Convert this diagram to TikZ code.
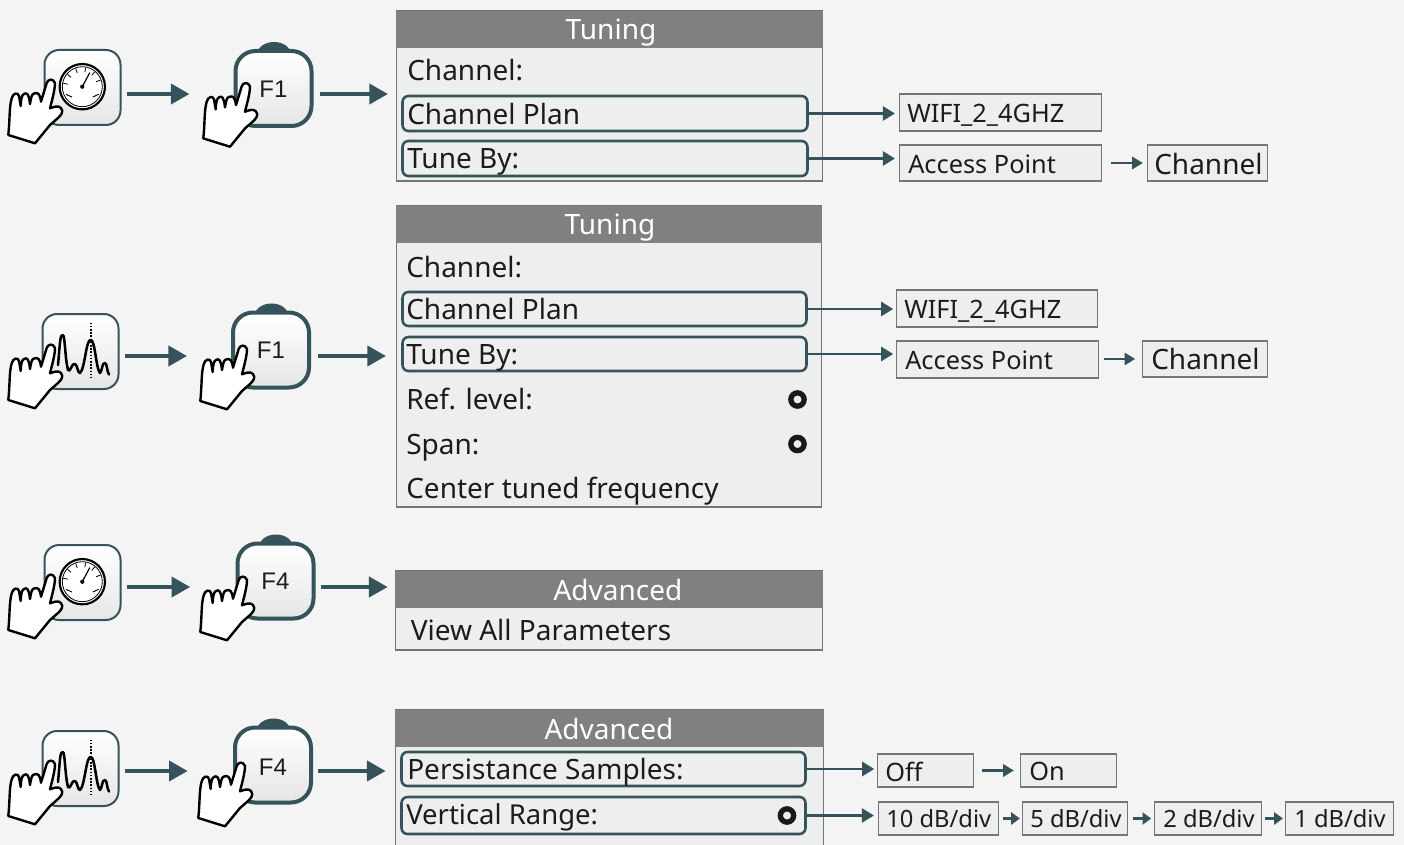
\documentclass[tikz,border=0pt]{standalone}
\usepackage{fontspec}
\setmainfont{Noto Sans}
\newfontfamily\keyfont{Liberation Sans}
\usetikzlibrary{arrows.meta,calc}
\definecolor{bgc}{HTML}{F4F4F4}
\definecolor{teal}{HTML}{36525A}
\definecolor{panelc}{HTML}{EDEFEE}
\definecolor{headc}{HTML}{808080}
\definecolor{edgec}{HTML}{757575}
\definecolor{inkc}{HTML}{1C1C1C}
\newcommand{\pxbox}[6]{% name,x1,y1,x2,y2,style
  \pgfmathsetmacro{\bw}{(#4-#2)*0.75}\pgfmathsetmacro{\bh}{(#5-#3)*0.75}
  \node[#6,minimum width=\bw pt,minimum height=\bh pt] (#1) at ({(#2+#4)/2+0.5},{(#3+#5)/2}) {};}
\newcommand{\handicon}[2]{\begin{scope}[shift={(#1,#2)}]
  \draw[fill=white,draw=black,line width=1.8pt,line join=round,line cap=round]
   (8.3,135) .. controls (10,120) and (9,108) .. (11.7,98.3) .. controls (13,93) and (18,92) .. (19,96) -- (20.7,106)
   .. controls (21,98) and (22,95) .. (24,94) .. controls (27,92) and (29,94) .. (30,104)
   .. controls (31,97) and (32,94) .. (34,93.5) .. controls (38,92) and (40,94) .. (41,101.7)
   -- (46.7,83) .. controls (48,79) and (53,78) .. (55,83) .. controls (55,90) and (52,100) .. (50,108.3)
   .. controls (54,107) and (58,105) .. (61,108) .. controls (64,112) and (61,115) .. (58,118)
   -- (50,125) -- (35,143.3) -- cycle;
 \end{scope}}
\newcommand{\gaugeicon}[3]{\begin{scope}[shift={(#1,#2)}]
  \pxbox{#3}{44}{50}{120}{125}{btn}
  \fill[white] (82.3,86.7) circle (17pt);
  \draw[black,line width=1.6pt] (82.3,86.7) circle (17pt);
  \draw[black,line width=.6pt] (82.3,86.7) circle (15pt);
  \foreach \a in {20,50,80,110,140,170}
    \draw[black,line width=.6pt] ($(82.3,86.7)+(\a:11pt)$) -- ($(82.3,86.7)+(\a:14.5pt)$);
  \draw[black,line width=.7pt] ($(82.3,86.7)+(205:13.5pt)$) -- ($(82.3,86.7)+(225:11pt)$);
  \draw[black,line width=.7pt] ($(82.3,86.7)+(-25:13.5pt)$) -- ($(82.3,86.7)+(-45:11pt)$);
  \draw[black,line width=.9pt] (82.3,86.7) -- ($(82.3,86.7)+(62:12pt)$);
  \fill[black] (82.3,86.7) circle (1.6pt);
 \end{scope}}
\newcommand{\specicon}[3]{\begin{scope}[shift={(#1,#2)}]
  \pxbox{#3}{44}{50}{120}{125}{btn}
  \draw[black,line width=1.2pt,dash pattern=on 1.2pt off 1.2pt] (92.7,58.5) -- (92.7,114);
  \draw[black,line width=1.9pt,line cap=round,line join=round]
   (60,101) .. controls (62,80) and (62,70) .. (64.7,71) .. controls (67,70) and (67,95) .. (70,106)
   .. controls (72,110) and (74,98) .. (77,100) .. controls (79,100) and (80,110) .. (82,109)
   .. controls (87,105) and (88,75) .. (92.7,76) .. controls (97,75) and (98,105) .. (102,109)
   .. controls (104,108) and (104,98) .. (107,99) .. controls (109,99) and (109,108) .. (111,110.5);
 \end{scope}}
\newcommand{\fkey}[5]{% name,x1,y1,label,label y offset
  \fill[teal] (#2+39,#3+3) ellipse [x radius=12.5pt,y radius=9pt];
  \pxbox{#1}{#2}{#3}{#2+76}{#3+75}{fbtn}
  \node[keytext] (#1t) at (#2+38.5,#3+#5) {#4};}
\newcommand{\tx}[4]{\node[txt] (#1) at (#2-1,#3) {#4};}
\newcommand{\ttl}[4]{\node[ttlt] (#1) at (#2+1,#3) {#4};}
\tikzset{
 btn/.style={draw=teal,line width=1.5pt,rounded corners=11pt,top color=white,bottom color=white!90!black,inner sep=0pt},
 fbtn/.style={draw=teal,line width=3pt,rounded corners=15pt,top color=white,bottom color=white!90!black,inner sep=0pt},
 keytext/.style={font=\keyfont\fontsize{18}{20}\selectfont,text=inkc,inner sep=0pt},
 txt/.style={anchor=base west,font=\fontsize{21}{26}\selectfont,text=inkc,inner sep=0pt},
 smalltxt/.style={anchor=base west,font=\fontsize{17.8}{22}\selectfont,text=inkc,inner sep=0pt},
 ttlt/.style={anchor=base,font=\fontsize{21}{26}\selectfont,text=white,inner sep=0pt},
 panel/.style={draw=edgec,line width=.8pt,fill=panelc,inner sep=0pt},
 head/.style={fill=headc,draw=headc,line width=.6pt,inner sep=0pt},
 row/.style={draw=teal,line width=1.9pt,rounded corners=4.5pt,fill=panelc,inner sep=0pt},
 opt/.style={draw=edgec,line width=.9pt,fill=panelc,inner sep=0pt},
 bigarrow/.style={draw=teal,line width=3pt,-{Triangle[length=14pt,width=15pt]}},
 midarrow/.style={draw=teal,line width=1.9pt,-{Triangle[length=9pt,width=10.5pt]}},
 smallarrow/.style={draw=teal,line width=2pt,-{Triangle[length=8pt,width=9pt]}},
 tinyarrow/.style={draw=teal,line width=2pt,-{Triangle[length=6.5pt,width=9pt]}},
 radio/.style={circle,draw=black!90,line width=4pt,fill=panelc,minimum size=10pt,inner sep=0pt},
}
\begin{document}
\begin{tikzpicture}[x=0.75pt,y=-0.75pt]
\clip (0,0) rectangle (1404,845);
\fill[bgc] (0,0) rectangle (1404,845);
% --- row 1
\gaugeicon{0}{0}{b1}
\handicon{0}{0}
\fkey{f1}{235}{51}{F1}{38}
\handicon{195}{3.4}
\pxbox{p1}{396}{11}{822}{181}{panel}
\pxbox{h1}{396}{11}{822}{47}{head}
\ttl{t1}{610}{40}{Tuning}
\tx{c1}{408}{81}{Channel:}
\pxbox{r1a}{402}{96}{807}{131}{row}
\tx{c1a}{408}{125}{Channel Plan}
\pxbox{r1b}{402}{141}{807}{176}{row}
\tx{c1b}{408}{169}{Tune By:}
\pxbox{o1a}{899}{94}{1101}{131}{opt}
\tx{o1at}{908}{123}{\fontsize{19}{24}\selectfont WIFI\_2\_4GHZ}
\pxbox{o1b}{899}{145}{1101}{181}{opt}
\tx{o1bt}{909}{174}{\fontsize{19}{24}\selectfont Access Point}
\pxbox{o1c}{1147}{145}{1267}{181}{opt}
\tx{o1ct}{1155}{175}{Channel}
\draw[bigarrow] ([xshift=4pt]b1.east |- 0,94) -- ([xshift=-33pt]f1.west |- 0,94);
\draw[bigarrow] ([xshift=5pt]f1.east |- 0,94) -- ([xshift=-6pt]p1.west |- 0,94);
\draw[midarrow] (r1a.east) -- ([xshift=-3pt]o1a.west |- r1a.east);
\draw[midarrow] (r1b.east) -- ([xshift=-3pt]o1b.west |- r1b.east);
\draw[smallarrow] ([xshift=7pt]o1b.east) -- ([xshift=-3pt]o1c.west);
% --- row 2
\specicon{-2}{264}{b2}
\handicon{0}{265}
\fkey{f2}{232.5}{312.5}{F1}{38}
\handicon{192}{266}
\pxbox{p2}{396}{206}{821}{507}{panel}
\pxbox{h2}{396}{206}{821}{242}{head}
\ttl{t2}{609}{235}{Tuning}
\tx{c2}{407}{277}{Channel:}
\pxbox{r2a}{402}{292}{806}{326}{row}
\tx{c2a}{407}{320}{Channel Plan}
\pxbox{r2b}{402}{337}{806}{371}{row}
\tx{c2b}{407}{364}{Tune By:}
\tx{c2c}{407}{409}{Ref. level:}
\tx{c2d}{407}{454}{Span:}
\tx{c2e}{407}{498}{Center tuned frequency}
\node[radio] (q1) at (797.5,399.5) {};
\node[radio] (q2) at (797.5,444) {};
\pxbox{o2a}{896}{290}{1097}{327}{opt}
\tx{o2at}{905}{319}{\fontsize{19}{24}\selectfont WIFI\_2\_4GHZ}
\pxbox{o2b}{896}{341}{1098}{378}{opt}
\tx{o2bt}{906}{369}{\fontsize{19}{24}\selectfont Access Point}
\pxbox{o2c}{1142}{341}{1267}{377}{opt}
\tx{o2ct}{1152}{369}{Channel}
\draw[bigarrow] ([xshift=4pt]b2.east |- 0,356) -- ([xshift=-33pt]f2.west |- 0,356);
\draw[bigarrow] ([xshift=5pt]f2.east |- 0,356) -- ([xshift=-7.5pt]p2.west |- 0,356);
\draw[midarrow] (r2a.east) -- ([xshift=-2pt]o2a.west |- r2a.east);
\draw[midarrow] (r2b.east) -- ([xshift=-2pt]o2b.west |- r2b.east);
\draw[smallarrow] ([xshift=3.5pt]o2b.east |- o2c.west) -- ([xshift=-5pt]o2c.west);
% --- row 3
\gaugeicon{0}{495}{b3}
\handicon{0}{495}
\fkey{f3}{237}{543.5}{F4}{38}
\handicon{192}{497}
\pxbox{p3}{395}{571}{822}{650}{panel}
\pxbox{h3}{395}{571}{822}{607}{head}
\ttl{t3}{617}{600}{Advanced}
\tx{c3}{411.5}{640}{View All Parameters}
\draw[bigarrow] ([xshift=4pt]b3.east |- 0,587) -- ([xshift=-34pt]f3.west |- 0,587);
\draw[bigarrow] ([xshift=4pt]f3.east |- 0,587) -- ([xshift=-5.5pt]p3.west |- 0,587);
% --- row 4
\specicon{-2}{681}{b4}
\handicon{0}{681}
\fkey{f4}{234.5}{727.5}{F4}{40}
\handicon{190}{683}
\pxbox{p4}{395}{710}{823}{900}{panel}
\pxbox{h4}{395}{710}{823}{746}{head}
\ttl{t4}{608}{739}{Advanced}
\pxbox{r4a}{401}{752}{805}{786}{row}
\tx{c4a}{408}{779}{Persistance Samples:}
\pxbox{r4b}{401}{797}{805}{834}{row}
\tx{c4b}{407}{824}{\fontsize{20.6}{26}\selectfont Vertical Range:}
\node[radio] (q3) at (787,815.5) {};
\pxbox{o4a}{877}{754}{973}{787}{opt}
\node[txt] (o4at) at (885,781) {\fontsize{19}{24}\selectfont Off};
\pxbox{o4b}{1020}{754}{1116}{787}{opt}
\node[txt] (o4bt) at (1029,780) {\fontsize{19}{24}\selectfont On};
\pxbox{o5a}{878}{802}{998}{835}{opt}
\node[smalltxt] (o5at) at (886,827) {10 dB/div};
\pxbox{o5b}{1022}{802}{1127}{835}{opt}
\node[smalltxt] (o5bt) at (1030,827) {5 dB/div};
\pxbox{o5c}{1154}{802}{1261}{835}{opt}
\node[smalltxt] (o5ct) at (1163,827) {2 dB/div};
\pxbox{o5d}{1285}{802}{1393}{835}{opt}
\node[smalltxt] (o5dt) at (1294,827) {1 dB/div};
\draw[bigarrow] ([xshift=4pt]b4.east |- 0,771) -- ([xshift=-34pt]f4.west |- 0,771);
\draw[bigarrow] ([xshift=4pt]f4.east |- 0,771) -- ([xshift=-7pt]p4.west |- 0,771);
\draw[midarrow] (r4a.east) -- ([xshift=-2pt]o4a.west |- r4a.east);
\draw[midarrow] (r4b.east) -- ([xshift=-3pt]o5a.west |- r4b.east);
\draw[smallarrow] ([xshift=6pt]o4a.east) -- ([xshift=-4.5pt]o4b.west);
\draw[tinyarrow] ([xshift=3pt]o5a.east) -- ([xshift=-1.5pt]o5b.west);
\draw[tinyarrow] ([xshift=3.5pt]o5b.east) -- ([xshift=-2pt]o5c.west);
\draw[tinyarrow] ([xshift=2.5pt]o5c.east) -- ([xshift=-1.5pt]o5d.west);
\end{tikzpicture}
\end{document}
